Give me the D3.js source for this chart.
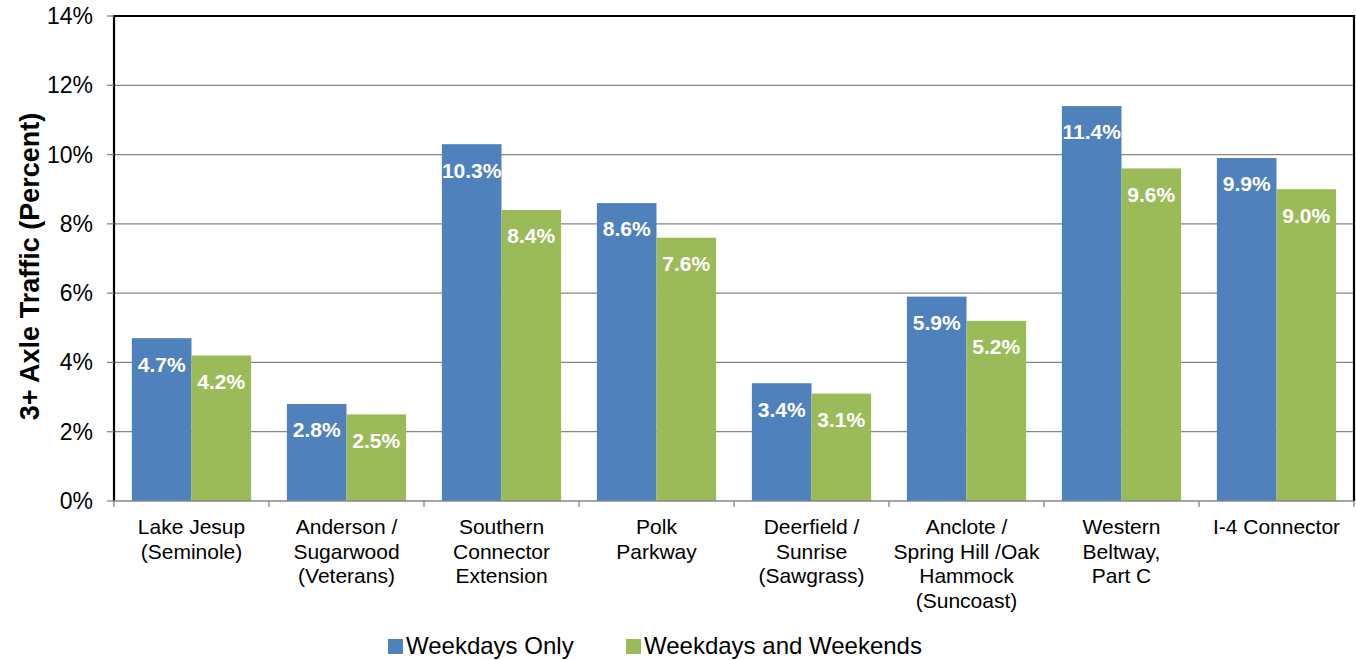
<!DOCTYPE html>
<html><head><meta charset="utf-8">
<script src="https://cdn.jsdelivr.net/npm/d3@7/dist/d3.min.js"></script>
<style>body{margin:0;background:#fff;font-family:"Liberation Sans",Arial,sans-serif;}</style>
</head><body>
<svg id="c" width="1356" height="660"></svg>
<script>
const categories = [
  ["Lake Jesup","(Seminole)"],
  ["Anderson /","Sugarwood","(Veterans)"],
  ["Southern","Connector","Extension"],
  ["Polk","Parkway"],
  ["Deerfield /","Sunrise","(Sawgrass)"],
  ["Anclote /","Spring Hill /Oak","Hammock","(Suncoast)"],
  ["Western","Beltway,","Part C"],
  ["I-4 Connector"]
];
const weekdaysOnly = [4.7, 2.8, 10.3, 8.6, 3.4, 5.9, 11.4, 9.9];
const weekdaysAndWeekends = [4.2, 2.5, 8.4, 7.6, 3.1, 5.2, 9.6, 9.0];
const seriesNames = ["Weekdays Only", "Weekdays and Weekends"];
const yTicks = [0, 2, 4, 6, 8, 10, 12, 14];
const colors = ["#4F81BD", "#9BBB59"];

const svg = d3.select("#c");
const L = 114, R = 1354, T = 16, B = 501;
const x = d3.scaleBand().domain(d3.range(categories.length)).range([L, R]).paddingInner(0).paddingOuter(0);
const x1 = d3.scaleBand().domain([0,1]).range([0, x.bandwidth()]).paddingOuter(0.3).paddingInner(0);
const y = d3.scaleLinear().domain([0, 14]).range([B, T]);

// gridlines
svg.append("g").selectAll("line").data(yTicks.filter(d => d > 0 && d < 14)).join("line")
  .attr("x1", L).attr("x2", R).attr("y1", d => y(d)).attr("y2", d => y(d))
  .attr("stroke", "#868686").attr("stroke-width", 1.3);

// bars
const data = [weekdaysOnly, weekdaysAndWeekends];
const g = svg.append("g");
data.forEach((vals, si) => {
  g.selectAll(".b" + si).data(vals).join("rect")
    .attr("x", (d, i) => x(i) + x1(si))
    .attr("y", d => y(d))
    .attr("width", x1.bandwidth())
    .attr("height", d => B - y(d))
    .attr("fill", colors[si]);
  g.selectAll(".t" + si).data(vals).join("text")
    .attr("x", (d, i) => x(i) + x1(si) + x1.bandwidth() / 2)
    .attr("y", d => y(d) + 26)
    .attr("dy", "0.35em")
    .attr("text-anchor", "middle")
    .attr("fill", "#fff").attr("font-weight", "bold").attr("font-size", 21)
    .text(d => d.toFixed(1) + "%");
});

// frame: top, left, right black
svg.append("path").attr("d", `M${L},${B}V${T}H${R}V${B}`).attr("fill", "none").attr("stroke", "#000").attr("stroke-width", 2.2);
// bottom axis line
svg.append("line").attr("x1", L).attr("x2", R).attr("y1", B).attr("y2", B).attr("stroke", "#868686").attr("stroke-width", 1.5);

// y ticks
const ya = svg.append("g");
ya.selectAll("line").data(yTicks).join("line")
  .attr("x1", L - 7).attr("x2", L).attr("y1", d => y(d)).attr("y2", d => y(d))
  .attr("stroke", "#868686").attr("stroke-width", 1.3);
ya.selectAll("text").data(yTicks).join("text")
  .attr("x", 93).attr("y", d => y(d)).attr("dy", "0.35em")
  .attr("text-anchor", "end").attr("font-size", 23).attr("fill", "#000")
  .text(d => d + "%");

// x ticks
svg.append("g").selectAll("line").data(d3.range(categories.length + 1)).join("line")
  .attr("x1", i => L + i * x.bandwidth()).attr("x2", i => L + i * x.bandwidth())
  .attr("y1", B).attr("y2", B + 6).attr("stroke", "#868686").attr("stroke-width", 1.3);

// x labels
const xl = svg.append("g");
categories.forEach((lines, i) => {
  const t = xl.append("text").attr("text-anchor", "middle").attr("font-size", 21).attr("fill", "#000");
  lines.forEach((ln, j) => {
    t.append("tspan").attr("x", x(i) + x.bandwidth() / 2).attr("y", 534 + j * 24.5).text(ln);
  });
});

// y title
svg.append("text").attr("transform", `translate(30,${(T + B) / 2 + 8}) rotate(-90)`)
  .attr("text-anchor", "middle").attr("dy", "0.35em")
  .attr("font-size", 27).attr("font-weight", "bold").text("3+ Axle Traffic (Percent)");

// legend
const legX = [388, 626];
seriesNames.forEach((n, i) => {
  svg.append("rect").attr("x", legX[i]).attr("y", 639).attr("width", 15).attr("height", 15).attr("fill", colors[i]);
  svg.append("text").attr("x", legX[i] + 18).attr("y", 654)
    .attr("font-size", 24).attr("fill", "#000").text(n);
});
</script>
</body></html>
